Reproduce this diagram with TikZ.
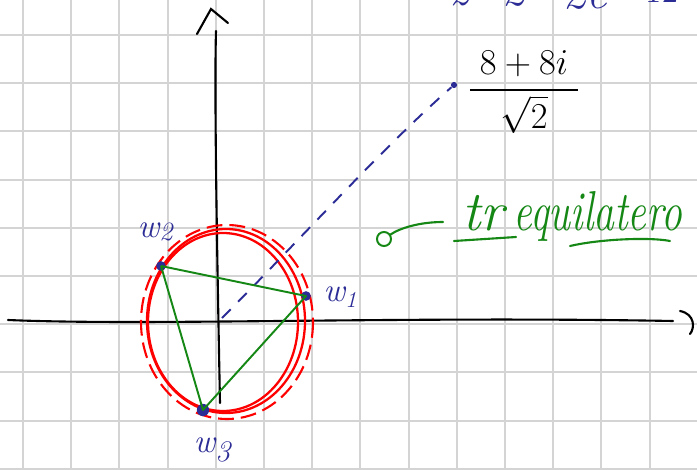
\documentclass[tikz,border=0pt]{standalone}
\usepackage{amsmath}
\usepackage{fontspec}
\usetikzlibrary{arrows.meta}
\definecolor{gridc}{RGB}{212,212,212}
\definecolor{ink}{RGB}{44,44,150}
\definecolor{grn}{RGB}{20,135,20}
\tikzset{
  gridline/.style={gridc, line width=1.2pt},
  axis/.style={black, line width=1.2pt, line cap=round},
  redstroke/.style={red, line width=1.3pt},
  reddash/.style={red, line width=1.2pt, dash pattern=on 9pt off 4pt},
  bluedash/.style={ink, line width=1.1pt, dash pattern=on 7pt off 6pt},
  tri/.style={grn, line width=1.1pt, line join=round},
  pt/.style={circle, fill=ink, inner sep=0pt, minimum size=5.5pt},
  wlab/.style={ink, font=\fontsize{19}{22}\selectfont\itshape, inner sep=0pt},
  blk/.style={black, inner sep=0pt},
  gtxt/.style={grn, inner sep=0pt, font=\fontsize{32}{36}\selectfont\itshape},
}
\begin{document}
\begin{tikzpicture}[x=0.02cm, y=-0.02cm]
\useasboundingbox (0,0) rectangle (697,470);
\clip (0,0) rectangle (697,470);
\fill[white] (0,0) rectangle (697,470);
% grid
\foreach \i in {0,...,14} {\draw[gridline] ({23+48.2*\i},0) -- ({23+48.2*\i},470);}
\foreach \j in {0,...,9} {\draw[gridline] (0,{35+48.2*\j}) -- (697,{35+48.2*\j});}
% top partial text (clipped)
\node[ink, anchor=base, inner sep=0pt, font=\fontsize{26}{30}\selectfont\itshape] (topa) at (488,6) {z=2};
\node[ink, anchor=base, inner sep=0pt, font=\fontsize{26}{30}\selectfont\itshape] (topb) at (585,9) {2e};
\node[ink, anchor=base, inner sep=0pt, font=\fontsize{20}{24}\selectfont] (topc) at (662,3) {12};
% axes
\coordinate (xl) at (8,320);
\coordinate (xr) at (673,321);
\draw[axis] (xl) .. controls (150,326) and (400,316) .. (xr);
\draw[axis] (680,311) .. controls (695,314) and (695,328) .. (690,334);
\coordinate (yb) at (220,403);
\coordinate (yt) at (216,31);
\draw[axis] (yb) .. controls (218,300) and (214,100) .. (yt);
\draw[axis] (197,34) -- (211,9) -- (228,23);
% circle
\draw[redstroke] (226,321) ellipse [x radius=79, y radius=92];
\draw[redstroke] (223,322) ellipse [x radius=75, y radius=89];
\draw[reddash] (227,322) ellipse [x radius=86, y radius=97];
% points
\coordinate (O) at (222,318);
\node[pt] (w1) at (306,296) {};
\node[pt] (w2) at (161,266) {};
\node[pt, minimum size=7pt] (w3) at (203,410) {};
\node[circle, fill=ink, inner sep=0pt, minimum size=3.5pt] (P) at (454,85) {};
% dashed ray
\draw[bluedash] (O) .. controls (300,240) and (380,150) .. (P);
% triangle
\draw[tri] (w2.center) -- (w1.center) -- (w3.center) -- (w2.center);
% labels
\node[wlab] (l2) at (155,232) {w\raisebox{-0.25ex}{\fontsize{15}{16}\selectfont 2}};
\node[wlab] (l1) at (340,297) {w\raisebox{-0.45ex}{\fontsize{13}{16}\selectfont 1}};
\node[wlab] (l3) at (212,450) {w\raisebox{-0.6ex}{\fontsize{17}{16}\selectfont 3}};
% fraction
\node[blk, font=\fontsize{22}{26}\selectfont] (frac) at (524,92) {$\dfrac{\;8+8i\;}{\sqrt2}$};
% green annotation
\coordinate (gs) at (443,222);
\node[grn, circle, draw, line width=1.1pt, inner sep=0pt, minimum size=8pt] (ge) at (384,239) {};
\draw[grn, line width=1.2pt, line cap=round] (gs) .. controls (420,222) and (400,228) .. (ge);
\node[gtxt, anchor=base] (tr) at (483,230) {tr};
\node[gtxt, anchor=base, xscale=0.74] (eq) at (598,230) {equilatero};
\draw[grn, line width=1.2pt, line cap=round] (454,241) -- (516,237);
\draw[grn, line width=1.2pt, line cap=round] (570,246) .. controls (600,239) and (650,237) .. (670,241);
\end{tikzpicture}
\end{document}
